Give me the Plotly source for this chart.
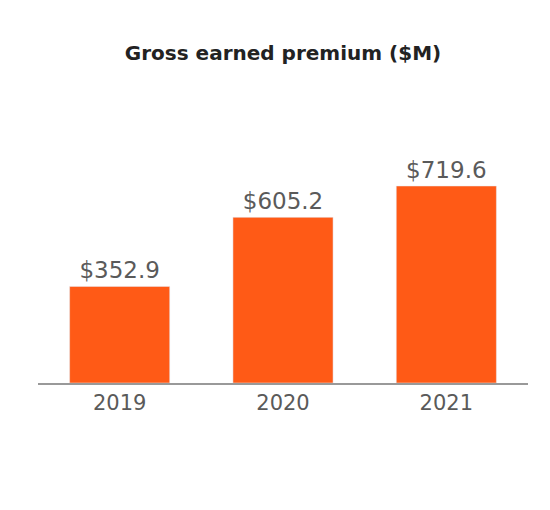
import plotly.graph_objects as go

years = ["2019", "2020", "2021"]
premium = [352.9, 605.2, 719.6]
labels = ["$352.9", "$605.2", "$719.6"]

fig = go.Figure(go.Bar(
    x=years, y=premium, text=labels, textposition="outside",
    marker_color="#FF5A16", cliponaxis=False,
    textfont=dict(size=23, color="#5a5a5a", family="DejaVu Sans"),
))

fig.update_layout(
    width=550, height=510,
    margin=dict(l=30, r=30, t=156, b=135),
    plot_bgcolor="white", paper_bgcolor="white",
    bargap=0.387, showlegend=False,
    title=dict(text="<b>Gross earned premium ($M)</b>", x=0.5, xanchor="center",
               y=0.912, yanchor="middle",
               font=dict(size=20, color="#222", family="DejaVu Sans")),
)
fig.update_xaxes(showline=True, linecolor="#999", linewidth=1.5, ticks="",
                 tickfont=dict(size=21, color="#5a5a5a", family="DejaVu Sans"))
fig.update_yaxes(range=[0, 800], visible=False)

fig.write_html("out.html")
